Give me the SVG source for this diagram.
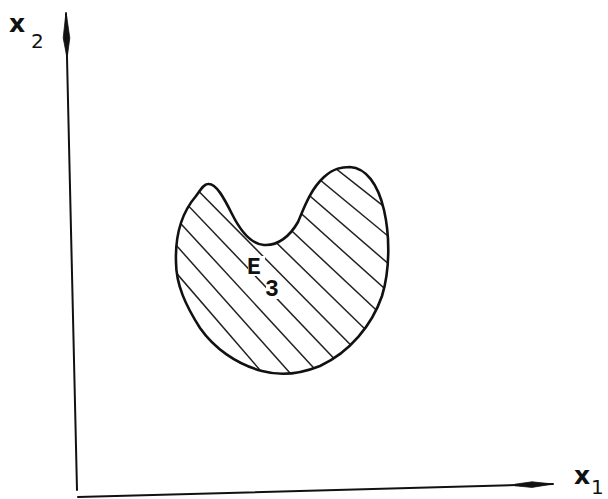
<svg xmlns="http://www.w3.org/2000/svg" width="608" height="499" viewBox="0 0 608 499">
  <style>
    .axis { stroke: #111; stroke-width: 2; fill: none; stroke-linecap: round; }
    .head { fill: #111; stroke: #111; stroke-width: 0.8; stroke-linejoin: round; }
    .outline { stroke: #111; stroke-width: 2.6; fill: none; stroke-linejoin: round; }
    .hatch { stroke: #222; stroke-width: 1.5; fill: none; }
    .lab { font-family: "DejaVu Sans", "Liberation Sans", sans-serif; fill: #111; }
    .lx { font-weight: bold; font-size: 25px; }
    .ld { font-size: 20px; }
    .set { font-family: "Liberation Mono", "DejaVu Sans Mono", monospace; fill: #111; font-size: 23px; font-weight: bold; }
  </style>
  <defs>
    <clipPath id="blobClip">
      <path d="M208,184 C216,183 224,198 232,214 C240,230 250,244 264,245 C278,246 290,236 298,222 C304,208 310,190 324,177 C334,168 342,167 350,167 C366,168 378,184 384,210 C390,236 390,270 382,296 C372,325 350,352 320,366 C300,374 280,376 262,371 C236,364 214,348 200,328 C186,306 176,285 176,262 C175,232 184,210 196,196 C201,189 204,184 208,184 Z"/>
    </clipPath>
  </defs>
  <rect width="608" height="499" fill="#fff"/>

  <g id="axes">
    <line class="axis" x1="66" y1="14" x2="77" y2="490"/>
    <polygon class="head" points="66,12 69.8,38 67.5,55 66.5,55 63.2,38"/>
    <line class="axis" x1="78" y1="497" x2="553" y2="484"/>
    <polygon class="head" points="553,484 532,481.8 515,484.2 515,485.8 532,487.4"/>
  </g>

  <g id="label-x2" class="lab">
    <text class="lx" x="9" y="32">x</text>
    <text class="ld" x="31" y="48">2</text>
  </g>
  <g id="label-x1" class="lab">
    <text class="lx" x="574" y="484">x</text>
    <text class="ld" x="591" y="494">1</text>
  </g>

  <g id="set-E3">
    <g clip-path="url(#blobClip)" class="hatch">
      <line x1="208.5" y1="68.1" x2="508.5" y2="304.9"/>
      <line x1="194.7" y1="76.4" x2="494.7" y2="324.2"/>
      <line x1="180.9" y1="84.6" x2="480.9" y2="343.6"/>
      <line x1="167.1" y1="92.9" x2="467.1" y2="362.9"/>
      <line x1="153.3" y1="101.1" x2="453.3" y2="382.3"/>
      <line x1="139.5" y1="109.3" x2="439.5" y2="401.7"/>
      <line x1="125.8" y1="117.5" x2="425.8" y2="420.9"/>
      <line x1="112" y1="125.7" x2="412" y2="440.3"/>
      <line x1="98.2" y1="134" x2="398.2" y2="459.6"/>
      <line x1="84.4" y1="142.2" x2="384.4" y2="479"/>
      <line x1="70.6" y1="150.4" x2="370.6" y2="498.4"/>
    </g>
    <path class="outline" d="M208,184 C216,183 224,198 232,214 C240,230 250,244 264,245 C278,246 290,236 298,222 C304,208 310,190 324,177 C334,168 342,167 350,167 C366,168 378,184 384,210 C390,236 390,270 382,296 C372,325 350,352 320,366 C300,374 280,376 262,371 C236,364 214,348 200,328 C186,306 176,285 176,262 C175,232 184,210 196,196 C201,189 204,184 208,184 Z"/>
    <rect x="248" y="256" width="17" height="20" fill="#fff"/>
    <rect x="266" y="280" width="15" height="19" fill="#fff"/>
    <text class="set" x="247" y="274">E</text>
    <text class="set" x="265" y="296">3</text>
  </g>
</svg>
